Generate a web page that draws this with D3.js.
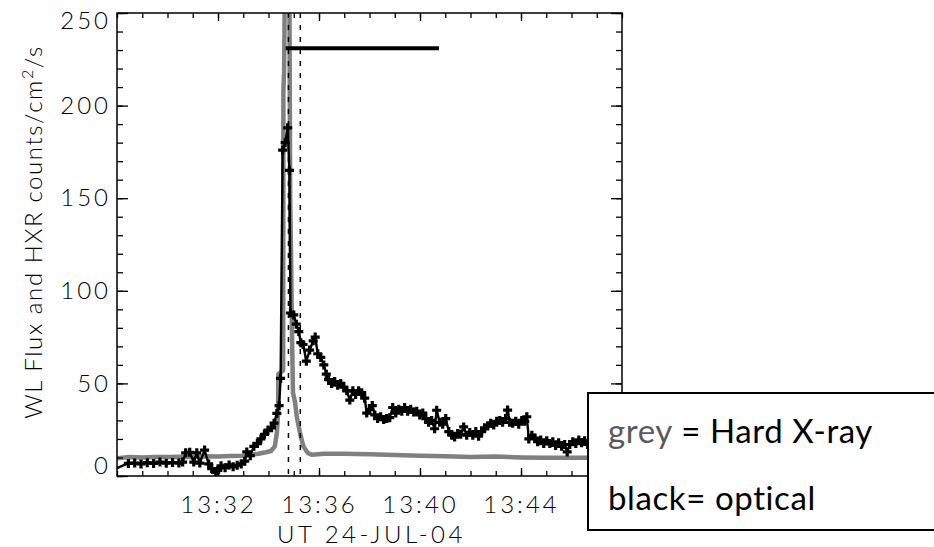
<!DOCTYPE html>
<html>
<head>
<meta charset="utf-8">
<script src="https://cdn.jsdelivr.net/npm/d3@7"></script>
<style>
  body { margin: 0; background: #fff; }
  .axis text { font-family: Lato, "DejaVu Sans", sans-serif; font-weight: 300; font-size: 24px; fill: #000; letter-spacing: 3px; }
</style>
</head>
<body>
<div id="chart"></div>
<script>
// times are minutes after 13:28 UT
const hxrTime = [0, 0.5, 1, 1.5, 2, 2.5, 3, 3.5, 4, 4.5, 5, 5.3, 5.6, 5.9, 6.1, 6.25, 6.33, 6.38, 6.39, 6.58,
  6.59, 6.62, 6.66, 6.82, 6.86, 6.9, 6.93, 6.97, 7.05, 7.12, 7.25, 7.38, 7.55, 7.71, 8.2, 9, 10, 11, 12, 13,
  14, 15, 16, 17, 18, 19, 20];
const hxrCounts = [9.6, 10.2, 10, 10.3, 10.2, 10.4, 10.3, 10.6, 10.5, 10.8, 11, 11.5, 12, 12.8, 13.5, 16, 23, 34, 55, 57,
  208, 219, 290, 290, 149, 113, 77, 45, 40, 32, 23, 16, 12.5, 11.5, 12, 12, 11.8, 11.3, 11, 10.7,
  10.3, 10.5, 10, 9.8, 9.8, 9.8, 9.8];

const wlTime = [0, 0.2, 0.45, 0.7, 0.95, 1.2, 1.45, 1.7, 1.95, 2.2, 2.45, 2.6, 2.72, 2.88, 3.04, 3.16, 3.28, 3.47, 3.63, 3.75,
  3.91, 3.99, 4.12, 4.28, 4.44, 4.6, 4.76, 4.92, 5.06, 5.14, 5.28, 5.42, 5.56, 5.7, 5.84, 5.98, 6.12, 6.22, 6.33, 6.42,
  6.48, 6.56, 6.66, 6.76, 6.83, 6.87, 7.0, 7.1, 7.2, 7.28, 7.37, 7.5, 7.63, 7.77, 7.85, 7.95, 8.07, 8.19, 8.29, 8.38,
  8.5, 8.62, 8.74, 8.86, 8.98, 9.1, 9.22, 9.34, 9.45, 9.57, 9.69, 9.81, 9.89, 10.01, 10.11, 10.21, 10.32, 10.44, 10.56, 10.68,
  10.8, 10.92, 11.04, 11.16, 11.28, 11.39, 11.51, 11.63, 11.75, 11.87, 11.99, 12.11, 12.23, 12.34, 12.46, 12.58, 12.66, 12.78, 12.9, 13.02,
  13.14, 13.26, 13.37, 13.49, 13.61, 13.73, 13.85, 13.97, 14.09, 14.21, 14.32, 14.44, 14.56, 14.68, 14.8, 14.92, 15.04, 15.16, 15.27, 15.39,
  15.47, 15.55, 15.67, 15.79, 15.91, 16.03, 16.15, 16.23, 16.31, 16.43, 16.55, 16.66, 16.78, 16.9, 17.02, 17.14, 17.26, 17.37, 17.49, 17.61,
  17.73, 17.83, 17.93, 18.05, 18.17, 18.29, 18.4, 18.52, 18.64, 18.76, 19.0, 19.4, 19.8, 20];
const wlFlux = [4.2, 5.5, 6.8, 7, 6.5, 7.2, 6.8, 7.5, 6.9, 7.3, 7, 7.5, 12.5, 12.8, 7.5, 12.5, 7, 14, 6.5, 4,
  2, 3, 5.5, 4.5, 6, 5, 5.8, 6.5, 8, 13, 11, 16, 17.5, 20, 22.5, 24.8, 26, 28.5, 33.8, 38,
  52.7, 176, 180, 188, 165, 88, 87, 82, 78, 72, 71, 62, 68, 73, 75, 66, 64, 60, 55, 52,
  50, 51, 49, 50, 48, 46, 41, 46, 44, 46, 45, 42, 34, 36, 38, 33, 31, 32, 30.5, 31,
  31.5, 37, 34, 36, 35, 37, 35, 36, 34.5, 35, 33, 34, 31, 29, 30, 25.5, 35.5, 29, 28, 31,
  24, 22, 21, 23, 22.5, 26.5, 22, 23.5, 22, 24, 21.5, 24, 26, 27, 28.5, 27.5, 29.5, 30, 29, 31,
  35.6, 29, 28.5, 29.5, 28, 30, 29.5, 32, 20, 22, 20.5, 18.5, 19.5, 17.5, 19, 17.5, 18.5, 16.5, 18, 16,
  17, 13, 17, 18.5, 17.5, 19.5, 18, 19, 17, 18.5, 17, 18, 17, 17.5];

const timeTicks = [4, 8, 12, 16];
const timeTickLabels = ['13:32', '13:36', '13:40', '13:44'];
const fluxTicks = [0, 50, 100, 150, 200, 250];
const markerTimes = [6.79, 7.26];
const barTimes = [6.68, 12.75];
const barLevel = 231;

const W = 934, H = 547;
const margin = { top: 13, right: 312, bottom: 71, left: 117 };
const width = W - margin.left - margin.right;
const height = H - margin.top - margin.bottom;

const svg = d3.select('#chart').append('svg')
  .attr('width', W)
  .attr('height', H);

const g = svg.append('g')
  .attr('transform', `translate(${margin.left},${margin.top})`);

const x = d3.scaleLinear().domain([0, 20]).range([0, width]);
const y = d3.scaleLinear().domain([0, 250]).range([height, 0]);

svg.append('defs').append('clipPath').attr('id', 'plot-clip')
  .append('rect').attr('width', width).attr('height', height);

const plot = g.append('g').attr('clip-path', 'url(#plot-clip)');

// hard X-ray (grey)
const hxr = hxrTime.map((t, i) => [t, hxrCounts[i]]);
plot.append('path')
  .datum(hxr)
  .attr('fill', 'none')
  .attr('stroke', '#808080')
  .attr('stroke-width', 4.5)
  .attr('stroke-linejoin', 'round')
  .attr('d', d3.line().x(d => x(d[0])).y(d => y(d[1])));

// white light (black, with plus markers)
const wl = wlTime.map((t, i) => [t, wlFlux[i]]);
plot.append('path')
  .datum(wl)
  .attr('fill', 'none')
  .attr('stroke', '#000')
  .attr('stroke-width', 2.4)
  .attr('d', d3.line().x(d => x(d[0])).y(d => y(d[1])));

plot.selectAll('.plus')
  .data(wl.slice(2))
  .enter()
  .append('path')
  .attr('class', 'plus')
  .attr('transform', d => `translate(${x(d[0])},${y(d[1])})`)
  .attr('d', 'M-4.5,0H4.5M0,-4.5V4.5')
  .attr('stroke', '#000')
  .attr('stroke-width', 3.2);

// dashed time markers
plot.selectAll('.vmark')
  .data(markerTimes)
  .enter()
  .append('line')
  .attr('x1', d => x(d)).attr('x2', d => x(d))
  .attr('y1', 0).attr('y2', height)
  .attr('stroke', '#000')
  .attr('stroke-width', 1.5)
  .attr('stroke-dasharray', '5,7');

// horizontal bar
plot.append('line')
  .attr('x1', x(barTimes[0])).attr('x2', x(barTimes[1]))
  .attr('y1', y(barLevel)).attr('y2', y(barLevel))
  .attr('stroke', '#000')
  .attr('stroke-width', 4);

// axes: IDL style, ticks pointing inward on all four sides
const minorX = d3.range(0, 21, 1);
const minorY = d3.range(0, 251, 10);

function bare(sel) { sel.select('.domain').remove(); }

g.append('g').attr('class', 'axis')
  .attr('transform', `translate(0,${height})`)
  .call(d3.axisBottom(x).tickValues(minorX).tickSize(-5).tickFormat(''))
  .call(bare);
g.append('g').attr('class', 'axis')
  .attr('transform', `translate(0,${height})`)
  .call(d3.axisBottom(x).tickValues(timeTicks).tickSize(-8).tickPadding(20)
    .tickFormat((d, i) => timeTickLabels[i]))
  .call(bare);
g.append('g').attr('class', 'axis')
  .call(d3.axisTop(x).tickValues(minorX).tickSize(-5).tickFormat(''))
  .call(bare);
g.append('g').attr('class', 'axis')
  .call(d3.axisTop(x).tickValues(timeTicks).tickSize(-8).tickFormat(''))
  .call(bare);

g.append('g').attr('class', 'axis')
  .call(d3.axisLeft(y).tickValues(minorY).tickSize(-6).tickFormat(''))
  .call(bare);
const yAxis = g.append('g').attr('class', 'axis')
  .call(d3.axisLeft(y).tickValues(fluxTicks).tickSize(-11).tickPadding(6).tickFormat(d3.format('d')))
  .call(bare);
// end labels sit inside the frame, as in the original
yAxis.selectAll('.tick text')
  .filter(d => d === 0 || d === 250)
  .attr('dy', d => d === 0 ? '-0.1em' : '0.65em');

g.append('g').attr('class', 'axis')
  .attr('transform', `translate(${width},0)`)
  .call(d3.axisRight(y).tickValues(minorY).tickSize(-6).tickFormat(''))
  .call(bare);
g.append('g').attr('class', 'axis')
  .attr('transform', `translate(${width},0)`)
  .call(d3.axisRight(y).tickValues(fluxTicks).tickSize(-11).tickFormat(''))
  .call(bare);

g.selectAll('.axis .tick line').attr('stroke', '#000').attr('stroke-width', 1.3);

g.append('rect')
  .attr('width', width).attr('height', height)
  .attr('fill', 'none')
  .attr('stroke', '#000')
  .attr('stroke-width', 1.5);

// axis titles
g.append('text')
  .attr('x', width / 2 + 2)
  .attr('y', height + 67)
  .attr('text-anchor', 'middle')
  .style('font-family', 'Lato, sans-serif')
  .style('font-weight', 300)
  .style('font-size', '24px')
  .style('letter-spacing', '3.5px')
  .text('UT 24-JUL-04');

const yt = svg.append('text')
  .attr('transform', 'translate(42,232) rotate(-90)')
  .attr('text-anchor', 'middle')
  .style('font-family', 'Lato, sans-serif')
  .style('font-weight', 300)
  .style('font-size', '24px')
  .style('letter-spacing', '1.6px');
yt.append('tspan').text('WL Flux and HXR counts/cm');
yt.append('tspan').attr('dy', -9).style('font-size', '16px').text('2');
yt.append('tspan').attr('dy', 9).text('/s');

// legend box
const legend = svg.append('g');
legend.append('rect')
  .attr('x', 588).attr('y', 393)
  .attr('width', 360).attr('height', 137)
  .attr('fill', '#fff')
  .attr('stroke', '#000')
  .attr('stroke-width', 2);

const l1 = legend.append('text')
  .attr('x', 608).attr('y', 443)
  .style('font-family', 'Lato, "Open Sans", sans-serif')
  .style('font-size', '33px')
  .style('letter-spacing', '0.6px');
l1.append('tspan').attr('fill', '#595959').text('grey');
l1.append('tspan').attr('fill', '#000').text(' = Hard X-ray');

legend.append('text')
  .attr('x', 608).attr('y', 510)
  .style('font-family', 'Lato, "Open Sans", sans-serif')
  .style('font-size', '33px')
  .style('letter-spacing', '0.6px')
  .attr('fill', '#000')
  .text('black= optical');
</script>
</body>
</html>
